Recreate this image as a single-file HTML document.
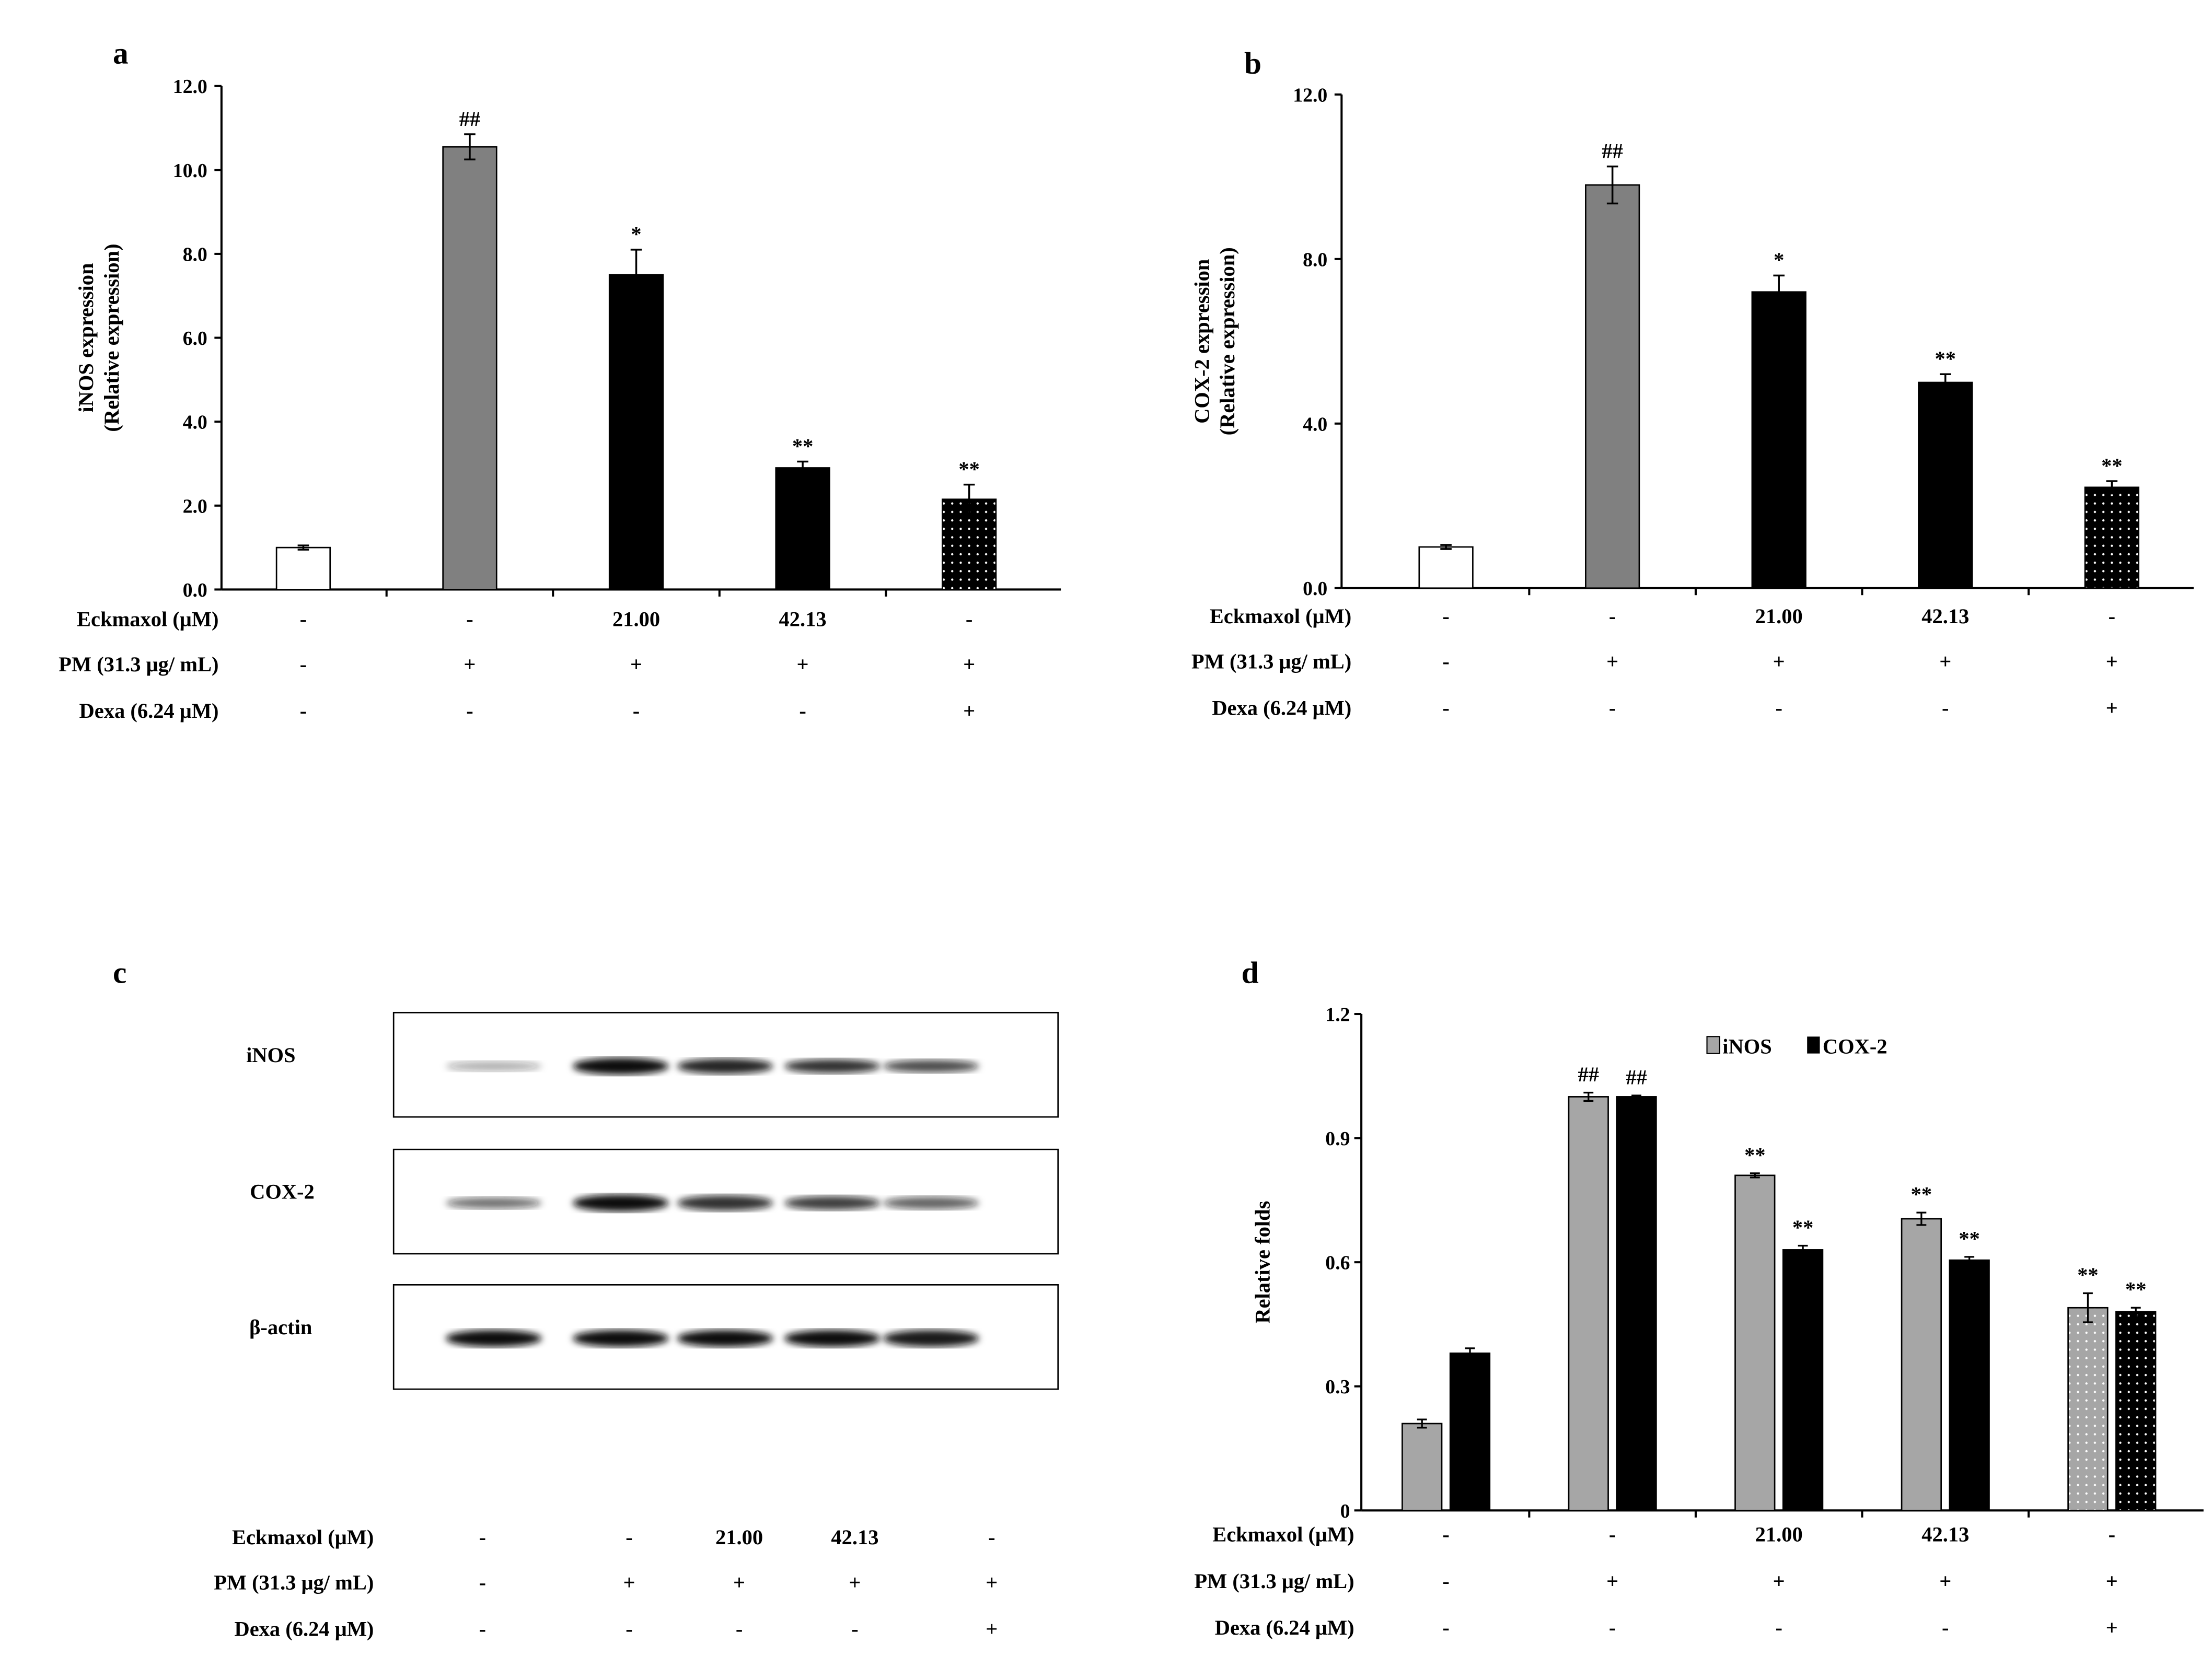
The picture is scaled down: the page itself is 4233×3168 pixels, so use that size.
<!DOCTYPE html>
<html><head><meta charset="utf-8"><style>
html,body{margin:0;padding:0;background:#fff}
svg{display:block}
text{font-family:"Liberation Serif",serif;font-weight:bold;fill:#000}
</style></head><body>
<svg id="fig" xmlns="http://www.w3.org/2000/svg" width="4233" height="3168" viewBox="0 0 1568 1173.5">
<defs>
<pattern id="dotsB" width="6" height="6" patternUnits="userSpaceOnUse"><rect width="6" height="6" fill="#000"/><circle cx="3" cy="3" r="0.8" fill="#fff"/></pattern>
<pattern id="dotsG" width="6" height="6" patternUnits="userSpaceOnUse"><rect width="6" height="6" fill="#a6a6a6"/><circle cx="3" cy="3" r="0.8" fill="#fff"/></pattern>
<filter id="blur"><feGaussianBlur stdDeviation="2.5"/></filter>
</defs>
<g id="root"></g>
</svg>
<script>
const NS="http://www.w3.org/2000/svg";
// Panel a data
const aCats=["ctrl","pm","eck21","eck42","dexa"];
const aVals=[1.0,10.55,7.5,2.9,2.15];
const aErrs=[0.05,0.3,0.6,0.15,0.35];
const aMarks=["","##","*","**","**"];
const aTicks=[0,2,4,6,8,10,12];
// Panel b data
const bVals=[1.0,9.8,7.2,5.0,2.45];
const bErrs=[0.05,0.45,0.4,0.2,0.15];
const bMarks=["","##","*","**","**"];
const bTicks=[0,4,8,12];
// Panel d data
const dINOS=[0.21,1.0,0.81,0.705,0.49];
const dINOSErr=[0.01,0.01,0.005,0.015,0.035];
const dCOX=[0.38,1.0,0.63,0.605,0.48];
const dCOXErr=[0.012,0.003,0.01,0.008,0.01];
const dMarksI=["","##","**","**","**"];
const dMarksC=["","##","**","**","**"];
const dTicks=[0,0.3,0.6,0.9,1.2];
const dTickLabels=["0","0.3","0.6","0.9","1.2"];
// Condition rows
const rowLabels=["Eckmaxol (μM)","PM (31.3 μg/ mL)","Dexa (6.24 μM)"];
const rowVals=[["-","-","21.00","42.13","-"],["-","+","+","+","+"],["-","-","-","-","+"]];

const root=document.getElementById('root');
function el(tag,attrs,parent,txt){const e=document.createElementNS(NS,tag);for(const k in attrs)e.setAttribute(k,attrs[k]);if(txt!==undefined)e.textContent=txt;(parent||root).appendChild(e);return e;}
function line(x1,y1,x2,y2,p,w){return el('line',{x1,y1,x2,y2,stroke:'#000','stroke-width':w||1.5},p);}

function rows(g,xs,ys,labelX){
  rowLabels.forEach((l,i)=>{
    const t=el('text',{x:labelX,y:ys[i],'font-size':15,'text-anchor':'end'},g,l);
    
    
    rowVals[i].forEach((v,j)=>{
      const c=el('text',{x:xs[j],y:ys[i],'font-size':15,'text-anchor':'middle'},g,v);
      
      
    });
  });
}

function singlePanel(o){
  const g=el('g',{});
  
  
  const y=v=>o.y0-(v/o.max)*(o.y0-o.ytop);
  const n=o.vals.length, step=118;
  const cx=i=>o.c0+step*i;
  line(o.x0,o.ytop,o.x0,o.y0,g);
  line(o.x0,o.y0,o.xEnd,o.y0,g);
  o.ticks.forEach((t,i)=>{line(o.x0-5,y(t),o.x0,y(t),g);
    const tl=el('text',{x:o.x0-10,y:y(t)+5,'font-size':14,'text-anchor':'end'},g,t.toFixed(1));
    });
  for(let i=1;i<n;i++)line(cx(i)-step/2,o.y0,cx(i)-step/2,o.y0+5,g);
  const fills=['#fff','#808080','#000','#000','url(#dotsB)'];
  o.vals.forEach((v,i)=>{
    const w=38;
    const b=el('rect',{x:cx(i)-w/2,y:y(v),width:w,height:o.y0-y(v),fill:fills[i],stroke:'#000','stroke-width':1},g);
    
    
    const e=o.errs[i];
    line(cx(i),y(v-e),cx(i),y(v+e),g,1.3);line(cx(i)-4,y(v+e),cx(i)+4,y(v+e),g,1.3);line(cx(i)-4,y(v-e),cx(i)+4,y(v-e),g,1.3);
    if(o.marks[i]){const m=el('text',{x:cx(i),y:y(v+e)-6,'font-size':15,'font-weight':'normal','text-anchor':'middle'},g,o.marks[i]);
      }
  });
  const tt=el('text',{transform:`translate(${o.titleX},${(o.ytop+o.y0)/2}) rotate(-90)`,'font-size':15,'text-anchor':'middle'},g);
  
  el('tspan',{x:0,dy:-9},tt,o.title);el('tspan',{x:0,dy:18},tt,'(Relative expression)');
  const pl=el('text',{x:o.letterX,y:o.letterY,'font-size':22},g,o.letter);
  
  rows(g,aCats.map((_,i)=>cx(i)),o.rowYs,o.rowLabelX);
}
singlePanel({name:'panel-a-inos-chart',cats:aCats,vals:aVals,errs:aErrs,marks:aMarks,ticks:aTicks,max:12,x0:157,xEnd:752,c0:215,y0:418,ytop:61,title:'iNOS expression',titleX:75,letter:'a',letterX:80,letterY:45,rowYs:[444,476,509],rowLabelX:155});
singlePanel({name:'panel-b-cox2-chart',cats:aCats,vals:bVals,errs:bErrs,marks:bMarks,ticks:bTicks,max:12,x0:951,xEnd:1555,c0:1025,y0:417,ytop:67,title:'COX-2 expression',titleX:866,letter:'b',letterX:882,letterY:52,rowYs:[442,474,507],rowLabelX:958});

// Panel c: western blot
(function(){
  const g=el('g',{});
  
  
  const pl=el('text',{x:80,y:697,'font-size':22},g,'c');
  
  const blots=[{n:'iNOS',y:718,lx:192,band:[0.35,1,0.9,0.85,0.75],bh:[7,12,11,10,9]},
               {n:'COX-2',y:815,lx:200,band:[0.6,1,0.85,0.8,0.65],bh:[8,12,11,10,9]},
               {n:'β-actin',y:911,lx:199,band:[1,1,1,1,0.95],bh:[12,12,12,12,12]}];
  const bx=[350,440,514,590,660];
  blots.forEach(b=>{
    const r=el('rect',{x:279,y:b.y,width:471,height:74,fill:'#fff',stroke:'#000','stroke-width':1},g);
    
    const t=el('text',{x:b.lx,y:b.y+35,'font-size':15,'text-anchor':'middle'},g,b.n);
    
    bx.forEach((x,i)=>{
      const e=el('ellipse',{cx:x,cy:b.y+38,rx:34,ry:b.bh[i]/2,fill:'#111','fill-opacity':b.band[i],filter:'url(#blur)'},g);
      
    });
  });
  rows(g,[342,446,524,606,703],[1095,1127,1160],265);
})();

// Panel d
(function(){
  const g=el('g',{});
  
  
  const x0=965,xEnd=1562,y0=1071,ytop=719,max=1.2;
  const y=v=>y0-(v/max)*(y0-ytop);
  const n=dINOS.length, step=118;
  const cx=i=>1025+step*i;
  line(x0,ytop,x0,y0,g);line(x0,y0,xEnd,y0,g);
  dTicks.forEach((t,i)=>{line(x0-5,y(t),x0,y(t),g);
    const tl=el('text',{x:x0-8,y:y(t)+5,'font-size':14,'text-anchor':'end'},g,dTickLabels[i]);
    });
  for(let i=1;i<n;i++)line(cx(i)-step/2,y0,cx(i)-step/2,y0+5,g);
  function bar(i,v,e,off,fill,mark,name){
    const w=28,x=cx(i)+off;
    const b=el('rect',{x:x-w/2,y:y(v),width:w,height:y0-y(v),fill,stroke:'#000','stroke-width':1},g);
    
    line(x,y(v-e),x,y(v+e),g,1.2);line(x-3.5,y(v+e),x+3.5,y(v+e),g,1.2);line(x-3.5,y(v-e),x+3.5,y(v-e),g,1.2);
    if(mark){const m=el('text',{x,y:y(v+e)-8,'font-size':15,'font-weight':'normal','text-anchor':'middle'},g,mark);
      }
  }
  dINOS.forEach((v,i)=>bar(i,v,dINOSErr[i],-17,i==4?'url(#dotsG)':'#a6a6a6',dMarksI[i],'bar-inos-'+aCats[i]));
  dCOX.forEach((v,i)=>bar(i,v,dCOXErr[i],17,i==4?'url(#dotsB)':'#000',dMarksC[i],'bar-cox2-'+aCats[i]));
  const tt=el('text',{transform:`translate(900,${(ytop+y0)/2}) rotate(-90)`,'font-size':15,'text-anchor':'middle'},g,'Relative folds');
  
  const pl=el('text',{x:880,y:697,'font-size':22},g,'d');
  
  const l1=el('rect',{x:1210,y:735,width:9,height:12,fill:'#a6a6a6',stroke:'#000','stroke-width':0.8},g);
  
  const t1=el('text',{x:1221,y:747,'font-size':15},g,'iNOS');
  
  const l2=el('rect',{x:1281,y:735,width:9,height:12,fill:'#000'},g);
  
  const t2=el('text',{x:1292,y:747,'font-size':15},g,'COX-2');
  
  rows(g,dINOS.map((_,i)=>cx(i)),[1093,1126,1159],960);
})();
</script>
</body></html>
